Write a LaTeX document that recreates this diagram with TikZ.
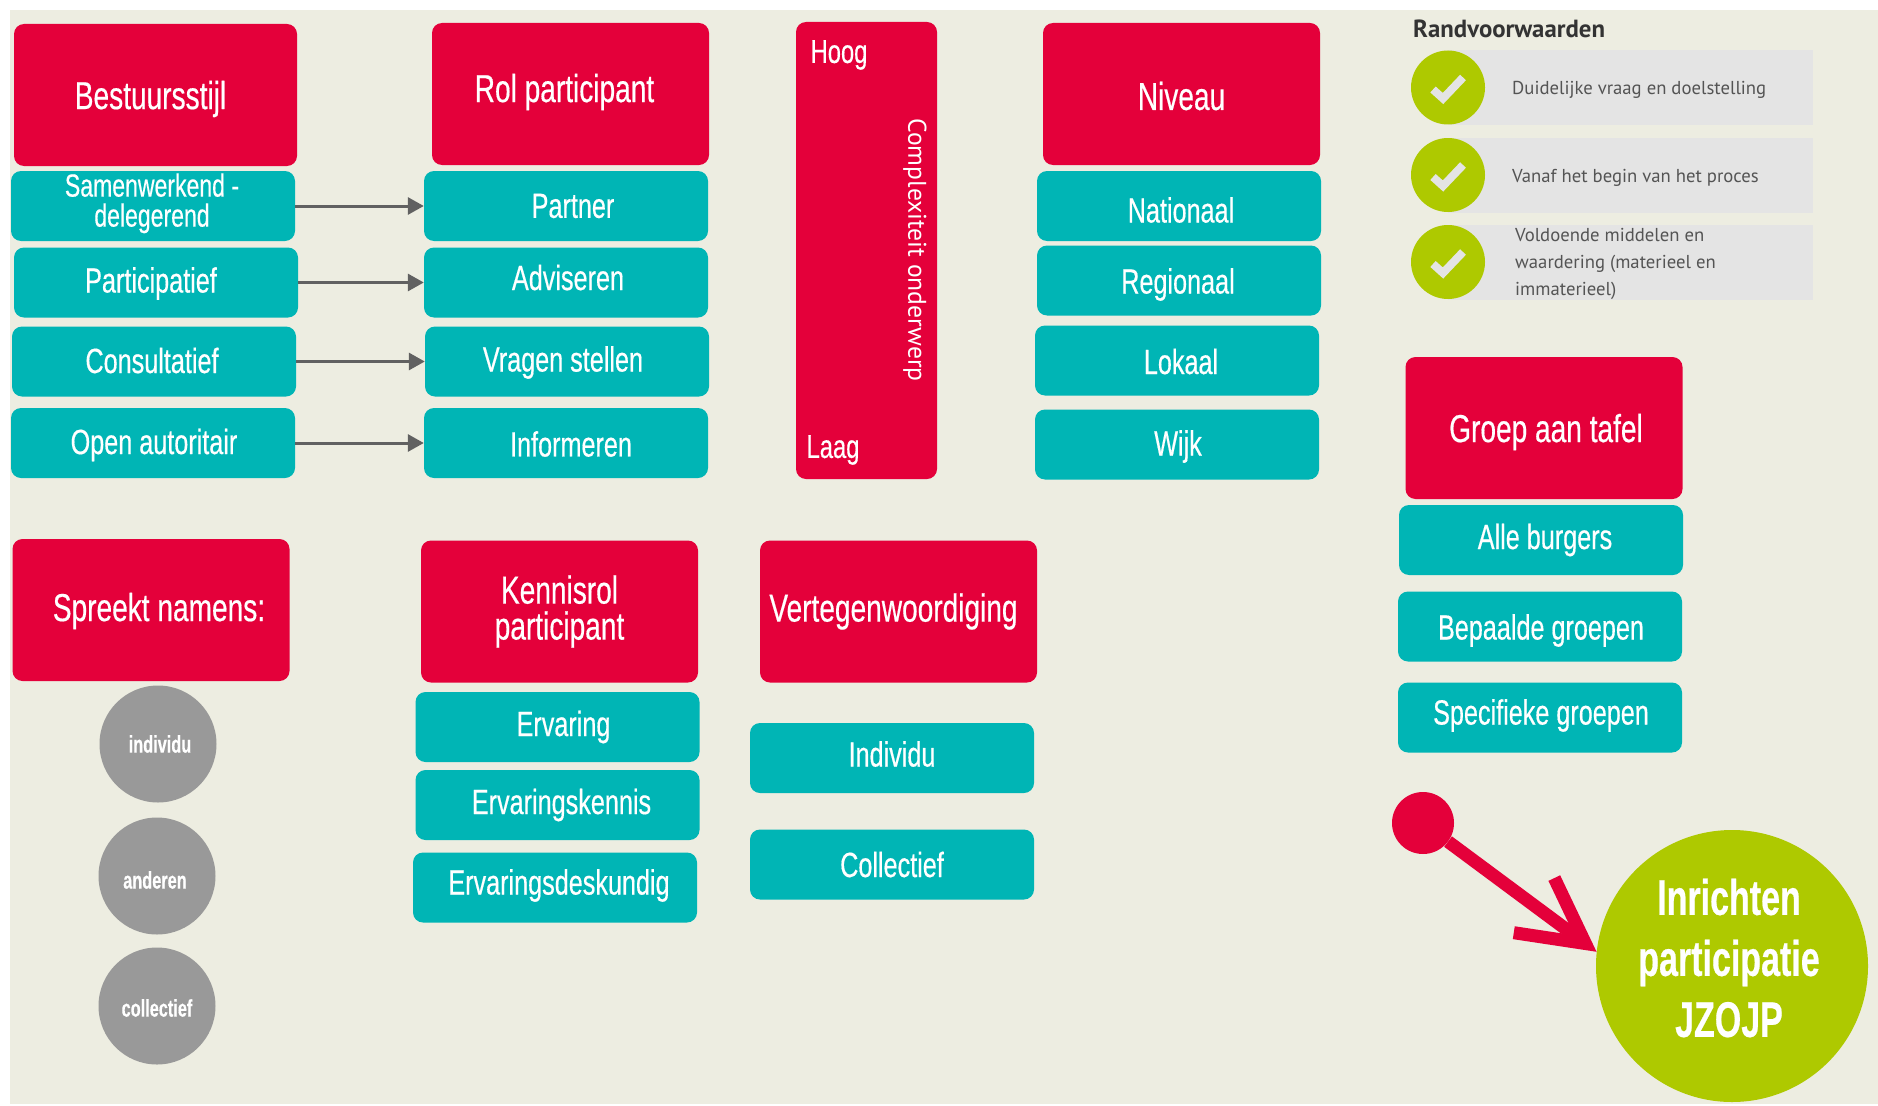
\documentclass[tikz,border=0pt]{standalone}
\usepackage{fontspec}
\usetikzlibrary{arrows.meta}
\newfontfamily\condfont[FakeStretch=0.72,FakeBold=0.4]{Liberation Sans}
\newfontfamily\goalfont[FakeStretch=0.68,FakeBold=0.4]{Liberation Sans}
\newfontfamily\smallfont{PT Sans}
\newcommand{\nudge}[3]{\raisebox{0pt}[\dimexpr\height+\ifdim#2pt>0pt 2pt*#2\else 0pt\fi\relax][\dimexpr\depth+\ifdim#2pt<0pt -2pt*#2\else 0pt\fi\relax]{\hspace*{\dimexpr 2pt*#1\relax}#3}}
\definecolor{paper}{HTML}{EDEDE1}
\definecolor{jzred}{HTML}{E4003A}
\definecolor{jzteal}{HTML}{00B5B5}
\definecolor{jzgreen}{HTML}{AEC900}
\definecolor{jzgrey}{HTML}{999999}
\definecolor{jzlight}{HTML}{E4E4E4}
\tikzset{
  redbox/.style={fill=jzred,rounded corners=10pt,minimum width=277pt,minimum height=142pt,inner sep=0pt,text=white,align=center,font=\condfont\fontsize{39}{36}\selectfont},
  tealbox/.style={fill=jzteal,rounded corners=10pt,minimum width=284pt,minimum height=70pt,inner sep=0pt,text=white,align=center,font=\condfont\fontsize{35}{30}\selectfont},
  greydot/.style={circle,fill=jzgrey,minimum size=117pt,inner sep=0pt,text=white,font=\goalfont\bfseries\fontsize{24}{24}\selectfont},
  greenbadge/.style={circle,fill=jzgreen,minimum size=74pt,inner sep=0pt},
  lightbar/.style={fill=jzlight,minimum width=365pt,minimum height=75pt,inner sep=0pt},
  note/.style={anchor=west,inner sep=0pt,text=black!67,align=left,font=\smallfont\fontsize{18.7}{27}\selectfont},
  tick/.style={draw=jzlight,line width=8pt},
  cornertext/.style={text=white,inner sep=0pt,font=\condfont\fontsize{33}{36}\selectfont},
  thinarrow/.style={draw=black!62,line width=3pt,-{Triangle[length=16pt,width=17pt]}},
}
\begin{document}
\begin{tikzpicture}[x=1pt,y=-1pt]
    \useasboundingbox(0,0)rectangle(1878,1105);
    \fill[paper](10,10)rectangle(1878,1104);

    \node[redbox,minimum width=283pt](stijl)at(155.5,95){\nudge{-5}{4}{Bestuursstijl}};
    \node[redbox](rol)at(570.5,94){\nudge{-6}{-2}{Rol participant}};
    \node[redbox,minimum width=141pt,minimum height=457pt](complex)at(866.5,250.5){};
    \node[redbox](niveau)at(1181.5,94){\nudge{0}{2}{Niveau}};
    \node[redbox](groep)at(1544,428){\nudge{2}{4}{Groep aan tafel}};
    \node[redbox](namens)at(151,610){\nudge{8}{1}{Spreekt namens:}};
    \node[redbox](kennis)at(559.5,611.5){Kennisrol\\participant};
    \node[redbox](verteg)at(898.5,611.5){\nudge{-5}{0}{Vertegenwoordiging}};

    \node[cornertext](hoog)at(839,55){Hoog};
    \node[cornertext](laag)at(833,450){Laag};
    \node[text=white,inner sep=0pt,rotate=-90,font=\smallfont\fontsize{25.6}{27}\selectfont](complextxt)at(915,250){Complexiteit onderwerp};

    \node[tealbox,font=\condfont\fontsize{32}{30}\selectfont](samen)at(153,206){\nudge{-1}{0}{Samenwerkend -}\\\nudge{-1}{0}{delegerend}\rule[-12pt]{0pt}{12pt}};
    \node[tealbox](partic)at(156,282.5){\nudge{-5}{1}{Participatief}};
    \node[tealbox](consult)at(154,361.5){\nudge{-2}{-1}{Consultatief}};
    \node[tealbox](open)at(153,443){\nudge{1}{2}{Open autoritair}};
    \node[tealbox](partner)at(566,206){\nudge{7}{0}{Partner}};
    \node[tealbox](advies)at(566,282.5){\nudge{2}{-5}{Adviseren}};
    \node[tealbox](vragen)at(567,361.5){\nudge{-4}{1}{Vragen stellen}};
    \node[tealbox](inform)at(566,443){\nudge{5}{1}{Informeren}};
    \draw[thinarrow](samen)--(partner);
    \draw[thinarrow](partic)--(advies);
    \draw[thinarrow](consult)--(vragen);
    \draw[thinarrow](open)--(inform);

    \node[tealbox](nat)at(1179,206){\nudge{2}{4}{Nationaal}};
    \node[tealbox](reg)at(1179,280.5){\nudge{-1}{4}{Regionaal}};
    \node[tealbox](lok)at(1177,360.5){\nudge{4}{1}{Lokaal}};
    \node[tealbox](wijk)at(1177,444.5){\nudge{1}{2}{Wijk}};

    \node[tealbox](burgers)at(1541,540){\nudge{4}{0}{Alle burgers}};
    \node[tealbox](bepaald)at(1540,626.5){\nudge{1}{4}{Bepaalde groepen}};
    \node[tealbox](specifiek)at(1540,717.5){\nudge{1}{-2}{Specifieke groepen}};

    \node[tealbox](ervaring)at(557.5,727){\nudge{6}{0}{Ervaring}};
    \node[tealbox](kenn)at(557.5,805){\nudge{4}{0}{Ervaringskennis}};
    \node[tealbox](deskundig)at(555,887.5){\nudge{4}{-2}{Ervaringsdeskundig}};
    \node[tealbox](indiv)at(892,758){\nudge{0}{-4}{Individu}};
    \node[tealbox](coll)at(892,864.5){Collectief};

    \node[greydot](dotind)at(158,744){\nudge{2}{0}{individu}};
    \node[greydot](dotand)at(157,876){\nudge{-2}{4}{anderen}};
    \node[greydot](dotcol)at(157,1006){\nudge{0}{2}{collectief}};

    \node[inner sep=0pt,anchor=base west,text=black!80,font=\smallfont\bfseries\fontsize{24.8}{27}\selectfont](rand)at(1413,38){Randvoorwaarden};
    \foreach \nm/\cy in {a/87.5,b/175,c/262}{
        \node[lightbar](bar\nm)at(1630.5,\cy){};
        \node[greenbadge](badge\nm)at(1448,\cy){};
        \draw[tick]([shift={(-15,2)}]badge\nm.center)--([shift={(-5,11)}]badge\nm.center)--([shift={(15,-10)}]badge\nm.center);
    }
    \node[note](notea)at(1512,90){Duidelijke vraag en doelstelling};
    \node[note](noteb)at(1512,177.5){Vanaf het begin van het proces};
    \node[note](notec)at(1515,264){Voldoende middelen en\\waardering (materieel en\\immaterieel)};

    \node[circle,fill=jzgreen,minimum size=272pt,inner sep=0pt](goal)at(1732,966){};
    \node[inner sep=0pt,text=white,align=center,font=\goalfont\bfseries\fontsize{50}{61}\selectfont](goaltxt)at(1729,958){Inrichten\\participatie\\JZOJP};
    \node[circle,fill=jzred,minimum size=62pt,inner sep=0pt](start)at(1423,823){};
    \draw[jzred,line width=13pt,-{Straight Barb[length=64pt,width=68pt,line width=13pt]}](start)--(goal.174);
\end{tikzpicture}
\end{document}
